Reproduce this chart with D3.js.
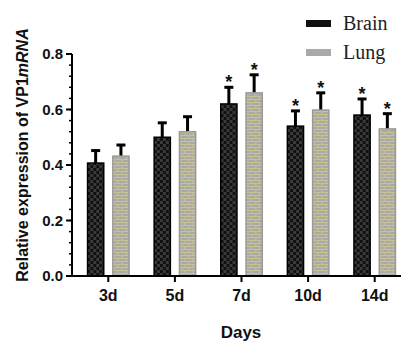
<!DOCTYPE html>
<html>
<head>
<meta charset="utf-8">
<script src="https://cdn.jsdelivr.net/npm/d3@7"></script>
<style>
  html, body { margin: 0; padding: 0; background: #fff; }
</style>
</head>
<body>
<div id="chart"></div>
<script>
const days   = ['3d', '5d', '7d', '10d', '14d'];
const series = ['Brain', 'Lung'];
const brain    = [0.407, 0.50, 0.62, 0.54, 0.58];
const brainErr = [0.045, 0.052, 0.06, 0.055, 0.058];
const lung     = [0.432, 0.52, 0.66, 0.598, 0.53];
const lungErr  = [0.04, 0.054, 0.065, 0.062, 0.055];
const brainSig = [false, false, true, true, true];
const lungSig  = [false, false, true, true, true];
const yTicks = [0, 0.2, 0.4, 0.6, 0.8];

const W = 401, H = 343;
const SANS = 'Arial, "Liberation Sans", Helvetica, sans-serif';

const svg = d3.select('#chart').append('svg')
  .attr('width', W).attr('height', H);

/* patterns */
const defs = svg.append('defs');
const pb = defs.append('pattern').attr('id', 'pBrain')
  .attr('patternUnits', 'userSpaceOnUse').attr('width', 6).attr('height', 6);
pb.append('rect').attr('width', 6).attr('height', 6).attr('fill', '#111');
pb.append('rect').attr('x', 0).attr('y', 0).attr('width', 3).attr('height', 3).attr('fill', '#3a3a3a');
pb.append('rect').attr('x', 3).attr('y', 3).attr('width', 3).attr('height', 3).attr('fill', '#3a3a3a');

const pl = defs.append('pattern').attr('id', 'pLung')
  .attr('patternUnits', 'userSpaceOnUse').attr('width', 8).attr('height', 6);
pl.append('rect').attr('width', 8).attr('height', 6).attr('fill', '#a9a9a9');
pl.append('path').attr('d', 'M0,0.5H8M0,3.5H8M2,0.5V3.5M6,3.5V6')
  .attr('stroke', '#c9c38f').attr('stroke-width', 1).attr('fill', 'none');

const fills   = { Brain: 'url(#pBrain)', Lung: 'url(#pLung)' };
const strokes = { Brain: '#000', Lung: '#999' };

const y = d3.scaleLinear().domain([0, 0.8]).range([276, 54]);
const x = d3.scaleBand().domain(days).range([75, 408]);
const x1 = d3.scaleBand().domain(series).range([-21.5, 21.5]).paddingInner(0.3);

const rows = days.map((d, i) => ({ day: d, vals: [
  { s: 'Brain', v: brain[i], e: brainErr[i], sig: brainSig[i] },
  { s: 'Lung',  v: lung[i],  e: lungErr[i],  sig: lungSig[i] }
]}));

const grp = svg.selectAll('.grp').data(rows).join('g')
  .attr('transform', d => `translate(${x(d.day) + x.bandwidth() / 2},0)`);

const bar = grp.selectAll('.bar').data(d => d.vals).join('g');

// error bars (upper only)
bar.append('line')
  .attr('x1', d => x1(d.s) + x1.bandwidth() / 2)
  .attr('x2', d => x1(d.s) + x1.bandwidth() / 2)
  .attr('y1', d => y(d.v)).attr('y2', d => y(d.v + d.e))
  .attr('stroke', '#000').attr('stroke-width', 3);
bar.append('line')
  .attr('x1', d => x1(d.s) + x1.bandwidth() / 2 - 4.5)
  .attr('x2', d => x1(d.s) + x1.bandwidth() / 2 + 4.5)
  .attr('y1', d => y(d.v + d.e)).attr('y2', d => y(d.v + d.e))
  .attr('stroke', '#000').attr('stroke-width', 3);

bar.append('rect')
  .attr('x', d => x1(d.s) + 0.75)
  .attr('y', d => y(d.v))
  .attr('width', x1.bandwidth() - 1.5)
  .attr('height', d => y(0) - y(d.v))
  .attr('fill', d => fills[d.s])
  .attr('stroke', d => strokes[d.s])
  .attr('stroke-width', 1.5);

bar.filter(d => d.sig).append('text')
  .attr('x', d => x1(d.s) + x1.bandwidth() / 2)
  .attr('y', d => y(d.v + d.e) + 1)
  .attr('text-anchor', 'middle')
  .attr('font-family', SANS).attr('font-weight', 'bold').attr('font-size', 18)
  .attr('fill', '#111')
  .text('*');

/* y axis */
const yAxis = svg.append('g').attr('transform', 'translate(72,0)');
yAxis.append('line').attr('x1', 0).attr('x2', 0).attr('y1', y(0.8)).attr('y2', y(0) + 1)
  .attr('stroke', '#000').attr('stroke-width', 2);
yAxis.selectAll('.minor').data(d3.range(0, 0.8001, 0.04)).join('line')
  .attr('x1', -3).attr('x2', 0)
  .attr('y1', d => y(d)).attr('y2', d => y(d))
  .attr('stroke', '#000').attr('stroke-width', 1.5);
yAxis.selectAll('.major').data(yTicks).join('line')
  .attr('x1', -6).attr('x2', 0)
  .attr('y1', d => y(d)).attr('y2', d => y(d))
  .attr('stroke', '#000').attr('stroke-width', 2);
yAxis.selectAll('.ylab').data(yTicks).join('text')
  .attr('x', -9).attr('y', d => y(d)).attr('dy', '0.36em')
  .attr('text-anchor', 'end')
  .attr('font-family', SANS).attr('font-weight', 'bold').attr('font-size', 15)
  .attr('fill', '#111')
  .text(d => d3.format('.1f')(d));

/* x axis */
const xAxis = svg.append('g').attr('transform', `translate(0,${y(0)})`);
xAxis.append('line').attr('x1', 71).attr('x2', 401).attr('y1', 0).attr('y2', 0)
  .attr('stroke', '#000').attr('stroke-width', 2);
xAxis.selectAll('.xt').data(days).join('line')
  .attr('x1', d => x(d) + x.bandwidth() / 2).attr('x2', d => x(d) + x.bandwidth() / 2)
  .attr('y1', 0).attr('y2', 6)
  .attr('stroke', '#000').attr('stroke-width', 2);
xAxis.selectAll('.xlab').data(days).join('text')
  .attr('x', d => x(d) + x.bandwidth() / 2).attr('y', 25)
  .attr('text-anchor', 'middle')
  .attr('font-family', SANS).attr('font-weight', 'bold').attr('font-size', 16)
  .attr('fill', '#111')
  .text(d => d);

svg.append('text')
  .attr('x', 241).attr('y', 338)
  .attr('text-anchor', 'middle')
  .attr('font-family', SANS).attr('font-weight', 'bold').attr('font-size', 17)
  .attr('fill', '#111')
  .text('Days');

/* y title */
const yt = svg.append('text')
  .attr('transform', 'translate(28,155) rotate(-90)')
  .attr('text-anchor', 'middle')
  .attr('font-family', SANS).attr('font-weight', 'bold').attr('font-size', 16)
  .attr('fill', '#111');
yt.append('tspan').text('Relative expression of VP1');
yt.append('tspan').attr('font-style', 'italic').text('mRNA');

/* legend */
const lg = svg.append('g').selectAll('g').data(series).join('g')
  .attr('transform', (d, i) => `translate(306,${20 + i * 29})`);
lg.append('rect').attr('width', 25).attr('height', 7)
  .attr('fill', d => d === 'Brain' ? '#111' : '#a9a9a9');
lg.append('text')
  .attr('x', 37).attr('y', 10)
  .attr('font-family', '"Liberation Serif", "DejaVu Serif", serif').attr('font-size', 20)
  .attr('fill', '#222')
  .text(d => d);
</script>
</body>
</html>
